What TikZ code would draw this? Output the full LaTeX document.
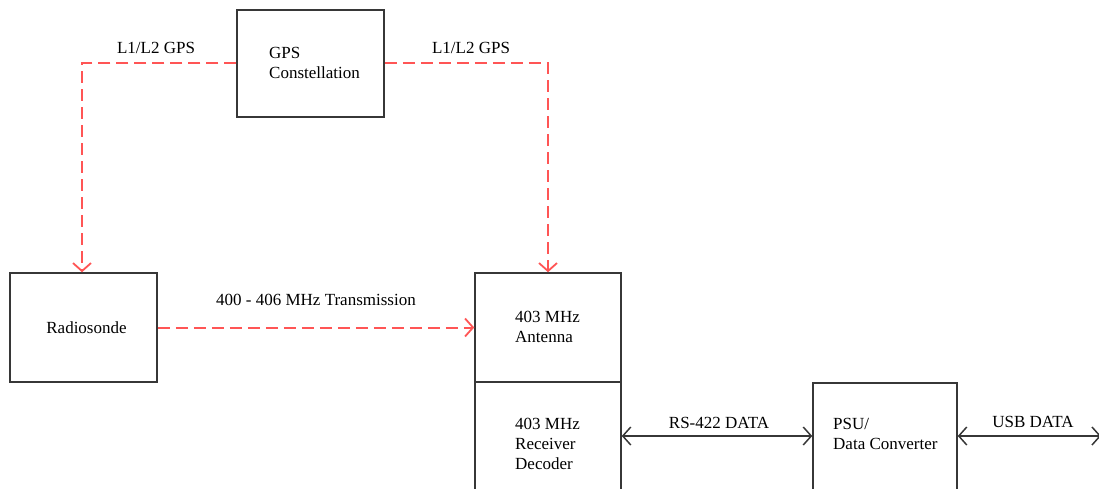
\documentclass[tikz,border=0pt]{standalone}
\usepackage{fontspec}
\setmainfont{Liberation Serif}
\usetikzlibrary{arrows.meta}
\definecolor{sigred}{RGB}{255,85,85}
\definecolor{boxline}{RGB}{55,55,55}
\begin{document}
\begin{tikzpicture}[x=1pt,y=-1pt,
  blk/.style={draw=boxline,line width=1.5pt,rectangle,inner sep=0pt},
  txt/.style={inner sep=0pt,align=left,font=\fontsize{17}{20}\selectfont},
  rf/.style={draw=sigred,line width=2pt,dash pattern=on 12pt off 6pt,
     -{Straight Barb[length=8pt,width=18pt,line width=1.8pt]}},
  bk/.style={draw=boxline,line width=1.5pt,
     {Straight Barb[length=8pt,width=18pt,line width=1.5pt]}-{Straight Barb[length=8pt,width=18pt,line width=1.5pt]}}
]
\useasboundingbox (0,0) rectangle (1099,489);
\clip (0,0) rectangle (1099,489);
% boxes
\node[blk,minimum width=147pt,minimum height=107pt] (gps) at (310.5,63.5) {};
\node[blk,minimum width=147pt,minimum height=109pt] (radio) at (83.5,327.5) {};
\node[blk,minimum width=146pt,minimum height=109pt] (ant) at (548,327.5) {};
\node[blk,minimum width=146pt,minimum height=118pt] (rcv) at (548,441) {};
\node[blk,minimum width=144pt,minimum height=116pt] (psu) at (885,441) {};
% box texts
\node[txt,anchor=west] (gpst) at (269,62.5) {GPS\\Constellation};
\node[txt] (radiot) at (86.5,328) {Radiosonde};
\node[txt,anchor=west] (antt) at (515,327) {403 MHz\\Antenna};
\node[txt,anchor=west] (rcvt) at (515,444) {403 MHz\\Receiver\\Decoder};
\node[txt,anchor=west] (psut) at (833,434) {PSU/\\Data Converter};
% connectors
\coordinate (arr) at (0,436);
\coordinate (usb) at (1101,436);
\draw[rf] (gps.west) -| ([xshift=-1.5pt]radio.north);
\draw[rf] (gps.east) -| (ant.north);
\draw[rf] (radio.east) -- (ant.west);
\draw[bk] (rcv.east |- arr) -- (psu.west |- arr);
\draw[bk] (psu.east |- arr) -- (usb);
% labels
\node[txt] (l1) at (156,48) {L1/L2 GPS};
\node[txt] (l2) at (471,48) {L1/L2 GPS};
\node[txt] (l3) at (316,300) {400 - 406 MHz Transmission};
\node[txt] (l4) at (719,423) {RS-422 DATA};
\node[txt] (l5) at (1033,422) {USB DATA};
\end{tikzpicture}
\end{document}
